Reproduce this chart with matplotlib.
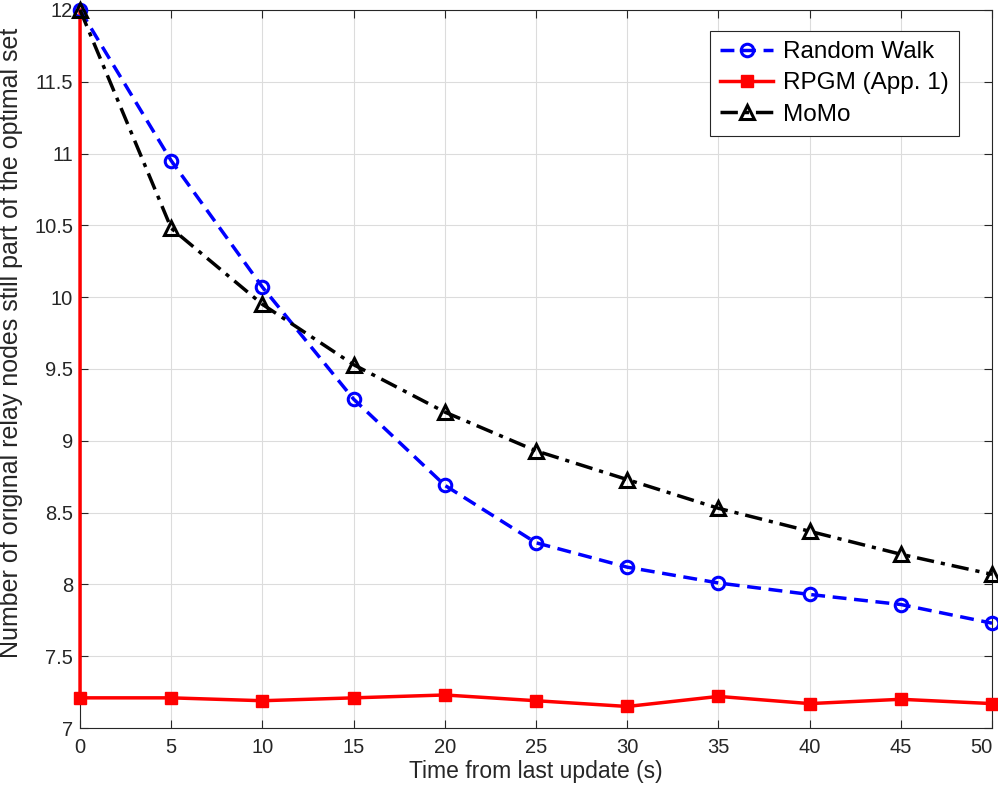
import matplotlib
matplotlib.use('Agg')
import matplotlib.pyplot as plt
import numpy as np

plt.rcParams['font.family'] = ['Liberation Sans', 'DejaVu Sans']

t = [0, 5, 10, 15, 20, 25, 30, 35, 40, 45, 50]
random_walk = [12, 10.95, 10.07, 9.29, 8.69, 8.29, 8.12, 8.01, 7.93, 7.86, 7.73]
momo = [12, 10.48, 9.95, 9.53, 9.20, 8.93, 8.73, 8.53, 8.37, 8.21, 8.07]
# RPGM drops straight down at t=0
t_rpgm = [0] + t
rpgm = [12, 7.21, 7.21, 7.19, 7.21, 7.23, 7.19, 7.15, 7.22, 7.17, 7.20, 7.17]

fig = plt.figure(figsize=(9.98, 7.92), dpi=100)
ax = fig.add_axes([0.0802, 0.0808, 0.9138, 0.9066])

ax.plot(t_rpgm, rpgm, '-s', color='#ff0000', lw=2.5, ms=8, mfc='#ff0000',
        label='RPGM (App. 1)', markevery=list(range(1, len(rpgm))),
        clip_on=False, zorder=3)
ax.plot(t, random_walk, '--o', color='#0000ff', lw=2.5, ms=9, mew=2.2,
        mfc='none', label='Random Walk', dashes=(4, 2.2), clip_on=False, zorder=3)
ax.plot(t, momo, '-.^', color='black', lw=2.5, ms=10, mew=2.2,
        mfc='none', label='MoMo', dashes=(5, 2, 1.2, 2), clip_on=False, zorder=3)

ax.set_xlim(0, 50)
ax.set_ylim(7, 12)
ax.set_xticks(np.arange(0, 51, 5))
ax.set_yticks(np.arange(7, 12.01, 0.5))
ax.set_yticklabels(['7', '7.5', '8', '8.5', '9', '9.5', '10', '10.5', '11', '11.5', '12'])
ax.grid(True, color='#dcdcdc', lw=0.8)
ax.set_axisbelow(True)
ax.tick_params(direction='in', top=True, right=True, labelsize=14.5,
               colors='#262626', length=6, width=0.8)
ax.tick_params(axis='x', pad=7)
ax.tick_params(axis='y', pad=5)
# keep the last x label inside the figure
ax.get_xticklabels()[-1].set_horizontalalignment('right')
for s in ax.spines.values():
    s.set_color('#262626')
    s.set_linewidth(0.8)

ax.set_xlabel('Time from last update (s)', fontsize=16.5, color='#262626', labelpad=2)
ax.set_ylabel('Number of original relay nodes still part of the optimal set',
              fontsize=18, color='#262626')
ax.yaxis.set_label_coords(-0.0625, 0.536)

handles, labels = ax.get_legend_handles_labels()
order = [1, 0, 2]
leg = ax.legend([handles[i] for i in order], [labels[i] for i in order],
                loc='upper right', bbox_to_anchor=(0.9638, 0.9708), borderaxespad=0,
                fontsize=17.5, fancybox=False, framealpha=1,
                edgecolor='#262626', handlelength=2.2,
                handletextpad=0.4, labelspacing=0.38, borderpad=0.42)
leg.get_frame().set_linewidth(0.8)

fig.savefig('out.png', dpi=100)
